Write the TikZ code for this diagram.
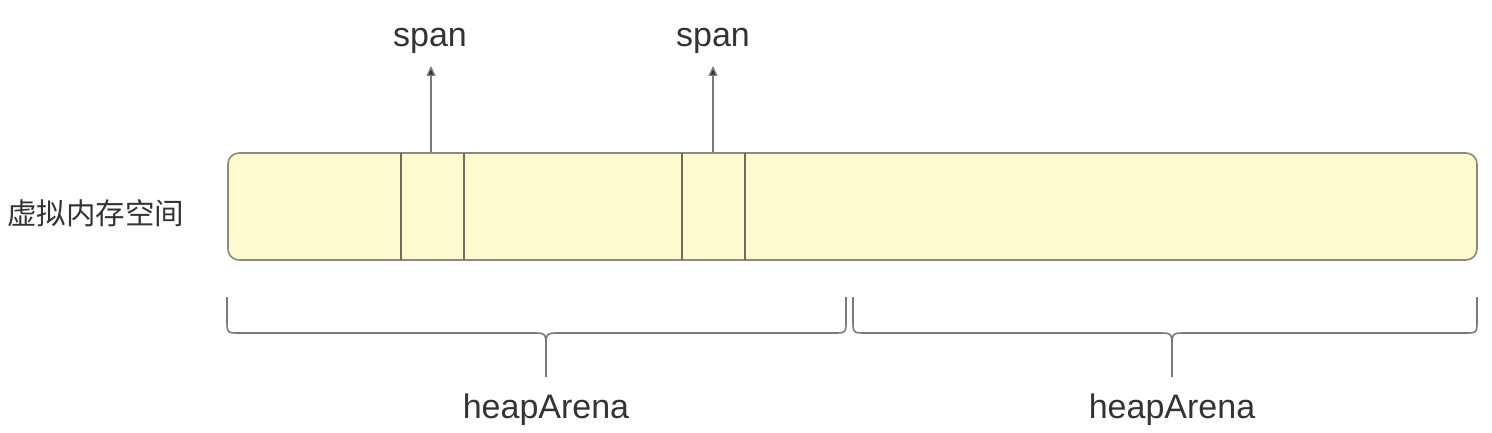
\documentclass[tikz,border=0pt]{standalone}
\usepackage{fontspec}
\setmainfont{Liberation Sans}
\newfontfamily\cjk{Noto Sans CJK SC}
\usetikzlibrary{arrows.meta}
\definecolor{boxfill}{HTML}{FEFAD0}
\definecolor{boxline}{HTML}{8C8B78}
\definecolor{divline}{HTML}{6E6D5E}
\definecolor{linegray}{HTML}{7A7A7A}
\definecolor{txt}{HTML}{333333}
\tikzset{
  memband/.style={draw=boxline, line width=1.6pt, fill=boxfill, rounded corners=11pt, inner sep=0pt},
  divider/.style={draw=divline, line width=1.3pt},
  ptr/.style={draw=linegray, line width=1.4pt, -{Triangle[length=10pt,width=9pt,fill=black!80]}},
  bracepath/.style={draw=linegray, line width=1.6pt},
  lbl/.style={text=txt, inner sep=0pt, font=\fontsize{34}{36}\selectfont},
  cjklbl/.style={text=txt, inner sep=0pt, font=\cjk\fontsize{29.5}{32}\selectfont},
}
\begin{document}
\begin{tikzpicture}[x=1pt,y=-1pt]
\useasboundingbox (0,0) rectangle (1492,433);
% memory band
\node[memband, minimum width=1249pt, minimum height=107pt] (band) at (852.5,206.5) {};
\draw[divider] (401,153) -- (401,260);
\draw[divider] (464,153) -- (464,260);
\draw[divider] (682,153) -- (682,260);
\draw[divider] (745,153) -- (745,260);
% label
\node[cjklbl] (vm) at (96,213) {虚拟内存空间};
% spans
\node[lbl] (s1) at (430,41) {span};
\node[lbl] (s2) at (713,41) {span};
\coordinate (a1) at (431,152);
\coordinate (a2) at (713,152);
\draw[ptr] (a1) -- (a1 |- 0,66);
\draw[ptr] (a2) -- (a2 |- 0,66);
% braces
\node[lbl] (h1) at (546,410) {heapArena};
\node[lbl] (h2) at (1172,410) {heapArena};
\draw[bracepath] (227,297) -- (227,320) .. controls (227,333) .. (240,333)
  -- (532,333) .. controls (546,333) .. (546,348) -- (546,377);
\draw[bracepath] (846,297) -- (846,320) .. controls (846,333) .. (833,333)
  -- (560,333) .. controls (546,333) .. (546,348);
\draw[bracepath] (853,297) -- (853,320) .. controls (853,333) .. (866,333)
  -- (1158,333) .. controls (1172,333) .. (1172,348) -- (1172,377);
\draw[bracepath] (1477,297) -- (1477,320) .. controls (1477,333) .. (1464,333)
  -- (1186,333) .. controls (1172,333) .. (1172,348);
\end{tikzpicture}
\end{document}
